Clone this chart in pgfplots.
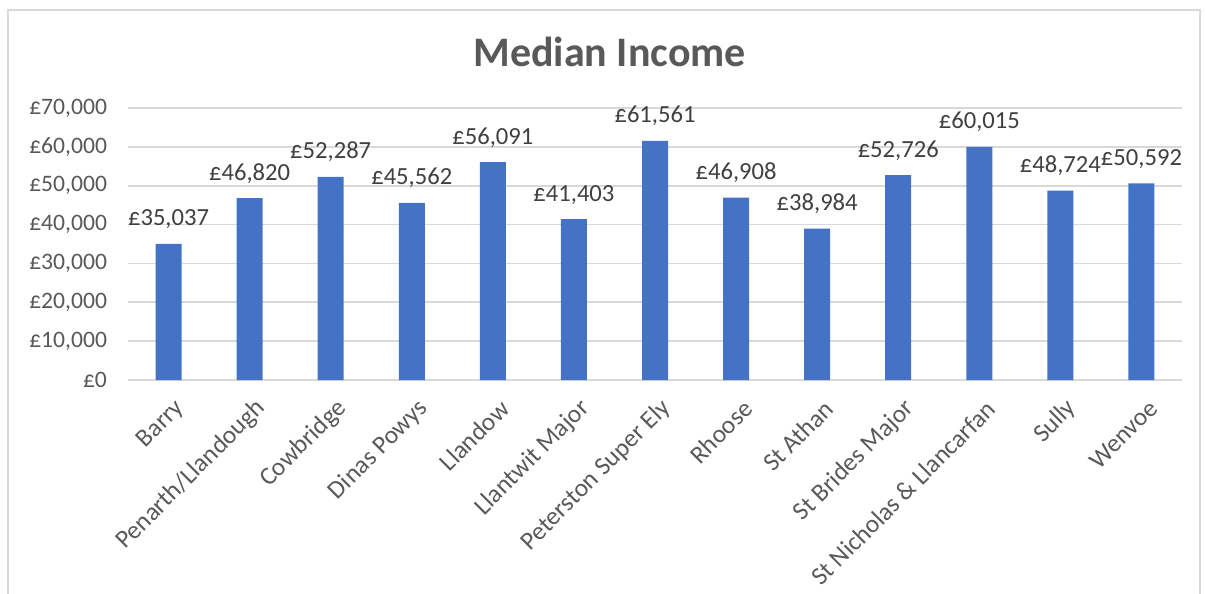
\documentclass[border=0pt]{standalone}
\usepackage{fontspec}
\setmainfont{Carlito}
\usepackage{pgfplots}
\pgfplotsset{compat=1.18}
\definecolor{barblue}{HTML}{4472C4}
\definecolor{gridgrey}{HTML}{D9D9D9}
\definecolor{txtgrey}{HTML}{595959}
\definecolor{lblgrey}{HTML}{404040}
\begin{document}
\begin{tikzpicture}
\useasboundingbox (-64pt,-107pt) rectangle (538.5pt,190pt);
\draw[gridgrey, line width=0.8pt] (-60pt,-112pt) rectangle (536pt,185pt);
\begin{axis}[
    at={(0pt,0pt)}, anchor=south west,
    width=527pt, height=136pt, scale only axis,
    ybar, bar width=13pt,
    ymin=0, ymax=70000, ytick={0,10000,...,70000},
    xmin=-0.5, xmax=12.5, xtick={0,...,12},
    enlargelimits=false, clip=false,
    scaled y ticks=false,
    axis line style={draw=none},
    major tick length=0pt,
    ymajorgrids, grid style={gridgrey, line width=0.8pt},
    /pgf/number format/.cd, fixed, precision=0, 1000 sep={,}, assume math mode=true,
    /pgfplots/.cd,
    yticklabel={£\pgfmathprintnumber{\tick}},
    tick label style={text=txtgrey},
    yticklabel style={font=\fontsize{11.8}{14}\selectfont, xshift=-7pt},
    xticklabel style={font=\fontsize{12.7}{14}\selectfont,
      rotate=45, anchor=east, yshift=-13pt, xshift=-1pt},
    xticklabels={Barry, Penarth/Llandough, Cowbridge, Dinas Powys, Llandow,
      Llantwit Major, Peterston Super Ely, Rhoose, St Athan, St Brides Major,
      St Nicholas \& Llancarfan, Sully, Wenvoe},
    nodes near coords={£\pgfmathprintnumber{\pgfplotspointmeta}},
    nodes near coords style={font=\fontsize{12.3}{14}\selectfont, text=lblgrey,
      anchor=base, inner sep=0pt, yshift=9pt},
    title={Median Income},
    title style={at={(axis description cs:0.457,1)}, anchor=center, yshift=22pt,
      font=\fontsize{21}{24}\selectfont\bfseries, text=txtgrey},
]
\addplot[fill=barblue, draw=none] coordinates {
    (0,35037) (1,46820) (2,52287) (3,45562) (4,56091) (5,41403) (6,61561)
    (7,46908) (8,38984) (9,52726) (10,60015) (11,48724) (12,50592)
};
\end{axis}
\end{tikzpicture}
\end{document}
